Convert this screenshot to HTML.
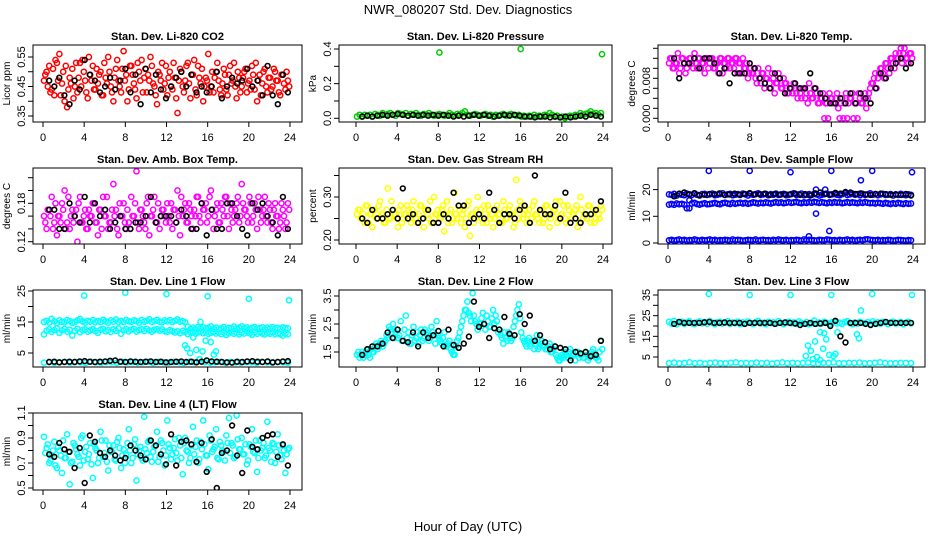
<!DOCTYPE html>
<html><head><meta charset="utf-8"><title>NWR_080207 Std. Dev. Diagnostics</title>
<style>
html,body{margin:0;padding:0;background:#fff;}
svg{display:block;font-family:"Liberation Sans",Arial,sans-serif;}
</style></head>
<body>
<svg id="chart" width="936" height="540" viewBox="0 0 936 540" xmlns="http://www.w3.org/2000/svg">
<rect x="0" y="0" width="936" height="540" fill="#fff"/>
<text x="468" y="14" text-anchor="middle" font-size="13">NWR_080207  Std. Dev. Diagnostics</text>
<text x="468" y="531" text-anchor="middle" font-size="13">Hour of Day (UTC)</text>
</svg>
<script>
// ---------- data ----------
const hourTicks = [0,4,8,12,16,20,24];

const co2Cloud = [0.47,0.50,0.52,0.44,0.42,0.53,0.56,0.46,0.40,0.38,0.48,0.51,0.45,0.43,0.53,0.54,0.47,0.41,0.49,0.52,0.44,0.46,0.50,0.42,0.48,0.55,0.45,0.40,0.51,0.47,0.43,0.57,0.49,0.44,0.52,0.46,0.41,0.50,0.54,0.48,0.43,0.47,0.52,0.45,0.39,0.49,0.53,0.46,0.42,0.50,0.44,0.48,0.36,0.51,0.45,0.47,0.53,0.41,0.49,0.44,0.52,0.46,0.40,0.48,0.56,0.45,0.43,0.50,0.47,0.42,0.51,0.44,0.49,0.46,0.53,0.41,0.48,0.45,0.50,0.43,0.47,0.52,0.44,0.40,0.49,0.46,0.51,0.43,0.48,0.45,0.50,0.47,0.42,0.49,0.44,0.47];
const co2Cloud2 = [0.49,0.45,0.43,0.51,0.54,0.47,0.42,0.50,0.52,0.44,0.46,0.41,0.53,0.48,0.45,0.50,0.43,0.55,0.47,0.44,0.51,0.49,0.42,0.53,0.46,0.50,0.43,0.48,0.54,0.45,0.51,0.47,0.40,0.52,0.49,0.44,0.53,0.47,0.43,0.51,0.49,0.55,0.46,0.42,0.50,0.47,0.44,0.52,0.48,0.45,0.53,0.41,0.47,0.50,0.43,0.52,0.46,0.49,0.54,0.42,0.48,0.51,0.45,0.47,0.43,0.50,0.48,0.53,0.44,0.46,0.49,0.42,0.52,0.47,0.45,0.50,0.43,0.48,0.51,0.46,0.44,0.49,0.53,0.47,0.42,0.50,0.45,0.48,0.44,0.51,0.47,0.43,0.49,0.46,0.50,0.45];
const co2Black = [0.47,0.45,0.48,0.42,0.39,0.47,0.44,0.54,0.49,0.47,0.43,0.45,0.48,0.44,0.47,0.51,0.43,0.49,0.39,0.51,0.43,0.49,0.44,0.41,0.45,0.48,0.50,0.45,0.49,0.43,0.45,0.43,0.45,0.50,0.41,0.45,0.48,0.46,0.47,0.51,0.45,0.47,0.42,0.52,0.42,0.39,0.49,0.43];

const presCloud = [0.01,0.02,0.01,0.02,0.015,0.02,0.01,0.025,0.02,0.015,0.03,0.02,0.025,0.03,0.02,0.015,0.03,0.025,0.02,0.03,0.015,0.025,0.02,0.03,0.02,0.015,0.025,0.02,0.03,0.02,0.015,0.02,0.025,0.02,0.015,0.02,0.03,0.02,0.015,0.025,0.02,0.03,0.04,0.02,0.015,0.02,0.025,0.02,0.015,0.02,0.025,0.015,0.02,0.01,0.02,0.015,0.02,0.025,0.015,0.02,0.025,0.02,0.015,0.02,0.01,0.015,0.01,0.015,0.01,0.02,0.01,0.015,0.01,0.02,0.015,0.03,0.02,0.01,0.015,0.005,0.01,0.0,0.01,0.015,0.01,0.02,0.015,0.03,0.02,0.025,0.03,0.04,0.025,0.03,0.02,0.03];
const presOutHours = [8.1,16.0,23.9];
const presOutVals = [0.38,0.40,0.37];
const presBlack = [0.01,0.015,0.01,0.015,0.02,0.015,0.02,0.025,0.02,0.015,0.02,0.015,0.02,0.015,0.02,0.015,0.02,0.015,0.01,0.015,0.01,0.015,0.02,0.015,0.02,0.015,0.01,0.015,0.02,0.015,0.02,0.015,0.01,0.01,0.005,0.01,0.01,0.005,0.01,0.005,0.01,0.005,0.01,0.015,0.01,0.02,0.015,0.01];

const tempCloud = [0.011,0.012,0.010,0.011,0.009,0.012,0.011,0.010,0.012,0.011,0.013,0.010,0.012,0.011,0.009,0.012,0.011,0.012,0.010,0.011,0.012,0.009,0.011,0.012,0.010,0.011,0.012,0.009,0.011,0.012,0.010,0.008,0.010,0.009,0.008,0.010,0.007,0.009,0.008,0.010,0.006,0.008,0.007,0.009,0.006,0.008,0.007,0.005,0.006,0.007,0.005,0.006,0.004,0.006,0.005,0.007,0.004,0.006,0.005,0.003,0.004,0.000,0.003,0.005,0.004,0.003,0.005,0.000,0.004,0.003,0.000,0.004,0.005,0.003,0.000,0.004,0.003,0.005,0.004,0.006,0.007,0.009,0.008,0.010,0.009,0.011,0.010,0.012,0.011,0.013,0.012,0.014,0.013,0.012,0.011,0.013];
const tempCloud2 = [0.012,0.010,0.011,0.013,0.010,0.012,0.009,0.011,0.012,0.010,0.011,0.012,0.010,0.011,0.012,0.010,0.012,0.010,0.011,0.009,0.012,0.011,0.010,0.012,0.011,0.010,0.012,0.011,0.009,0.010,0.011,0.009,0.009,0.010,0.007,0.008,0.009,0.006,0.008,0.007,0.009,0.005,0.007,0.008,0.006,0.007,0.005,0.006,0.005,0.006,0.004,0.005,0.006,0.004,0.003,0.005,0.004,0.006,0.003,0.004,0.005,0.003,0.000,0.004,0.003,0.004,0.002,0.003,0.000,0.005,0.003,0.004,0.000,0.003,0.005,0.003,0.004,0.002,0.005,0.007,0.008,0.006,0.009,0.010,0.008,0.011,0.009,0.012,0.010,0.012,0.013,0.011,0.014,0.012,0.013,0.012];
const tempBlack = [0.012,0.008,0.011,0.011,0.012,0.010,0.012,0.012,0.011,0.009,0.010,0.007,0.009,0.009,0.009,0.011,0.010,0.008,0.007,0.006,0.009,0.008,0.005,0.006,0.007,0.006,0.006,0.009,0.006,0.005,0.004,0.003,0.003,0.004,0.003,0.005,0.003,0.005,0.004,0.003,0.006,0.009,0.008,0.010,0.011,0.012,0.010,0.011];

const ambCloud = [0.16,0.14,0.17,0.19,0.15,0.13,0.16,0.18,0.20,0.15,0.14,0.17,0.16,0.12,0.19,0.15,0.17,0.14,0.16,0.18,0.15,0.13,0.17,0.19,0.16,0.14,0.15,0.21,0.17,0.13,0.16,0.18,0.14,0.15,0.19,0.16,0.23,0.14,0.17,0.15,0.18,0.13,0.16,0.19,0.15,0.14,0.17,0.16,0.18,0.15,0.14,0.17,0.20,0.13,0.16,0.18,0.15,0.17,0.14,0.16,0.19,0.15,0.17,0.18,0.16,0.20,0.14,0.17,0.15,0.18,0.16,0.19,0.14,0.17,0.16,0.18,0.15,0.21,0.17,0.16,0.19,0.15,0.18,0.14,0.17,0.16,0.19,0.15,0.17,0.14,0.18,0.16,0.15,0.17,0.14,0.18];
const ambCloud2 = [0.15,0.17,0.16,0.14,0.18,0.16,0.15,0.17,0.14,0.19,0.16,0.15,0.17,0.18,0.15,0.16,0.14,0.17,0.16,0.18,0.15,0.17,0.14,0.16,0.19,0.15,0.17,0.16,0.14,0.18,0.16,0.15,0.17,0.14,0.16,0.18,0.15,0.17,0.16,0.14,0.19,0.16,0.17,0.15,0.18,0.16,0.17,0.15,0.16,0.18,0.17,0.15,0.16,0.19,0.17,0.15,0.18,0.16,0.17,0.19,0.16,0.18,0.17,0.15,0.19,0.17,0.16,0.18,0.15,0.17,0.19,0.16,0.18,0.15,0.17,0.19,0.16,0.18,0.17,0.15,0.18,0.16,0.17,0.19,0.15,0.17,0.16,0.18,0.15,0.17,0.16,0.14,0.18,0.16,0.15,0.17];
const ambBlack = [0.17,0.17,0.14,0.14,0.18,0.16,0.15,0.19,0.15,0.18,0.16,0.17,0.14,0.15,0.16,0.14,0.14,0.15,0.15,0.16,0.19,0.15,0.16,0.16,0.16,0.15,0.17,0.16,0.14,0.14,0.18,0.13,0.17,0.14,0.14,0.18,0.18,0.16,0.14,0.13,0.18,0.17,0.18,0.16,0.15,0.13,0.19,0.14];

const rhCloud = [0.26,0.27,0.25,0.24,0.28,0.26,0.23,0.27,0.25,0.29,0.26,0.24,0.32,0.25,0.27,0.26,0.23,0.28,0.25,0.26,0.27,0.24,0.29,0.25,0.26,0.28,0.23,0.27,0.25,0.24,0.30,0.26,0.25,0.27,0.22,0.29,0.26,0.24,0.31,0.25,0.27,0.26,0.23,0.28,0.21,0.26,0.25,0.30,0.27,0.24,0.26,0.28,0.25,0.23,0.27,0.26,0.24,0.29,0.25,0.27,0.26,0.23,0.34,0.25,0.28,0.26,0.24,0.27,0.25,0.29,0.26,0.24,0.27,0.25,0.28,0.23,0.26,0.27,0.24,0.29,0.26,0.25,0.28,0.24,0.26,0.27,0.23,0.30,0.25,0.26,0.28,0.24,0.27,0.25,0.26,0.28];
const rhCloud2 = [0.27,0.25,0.26,0.28,0.24,0.26,0.27,0.25,0.28,0.26,0.24,0.27,0.25,0.29,0.26,0.25,0.27,0.24,0.26,0.28,0.25,0.27,0.26,0.24,0.28,0.25,0.27,0.26,0.29,0.24,0.26,0.27,0.25,0.28,0.26,0.24,0.27,0.25,0.26,0.28,0.24,0.27,0.25,0.29,0.26,0.24,0.27,0.26,0.25,0.28,0.24,0.27,0.26,0.25,0.28,0.26,0.24,0.27,0.25,0.28,0.26,0.24,0.27,0.29,0.25,0.27,0.26,0.24,0.28,0.26,0.25,0.27,0.24,0.28,0.26,0.25,0.27,0.29,0.25,0.26,0.28,0.24,0.27,0.25,0.26,0.28,0.24,0.27,0.26,0.25,0.28,0.26,0.24,0.27,0.25,0.27];
const rhBlack = [0.25,0.24,0.27,0.25,0.25,0.26,0.27,0.25,0.32,0.25,0.26,0.24,0.25,0.27,0.24,0.24,0.26,0.25,0.31,0.28,0.28,0.24,0.25,0.26,0.25,0.31,0.27,0.24,0.26,0.26,0.25,0.27,0.28,0.24,0.35,0.27,0.26,0.26,0.28,0.25,0.31,0.24,0.25,0.24,0.26,0.26,0.27,0.29];

const sampleHigh = [18.2,18.0,18.4,17.8,18.3,18.1,17.9,18.5,18.2,18.0,18.6,18.1,17.8,18.3,18.4,18.0,18.2,18.5,17.9,18.1,18.3,18.6,18.0,18.2,18.4,17.9,18.1,18.3,18.0,18.5,18.2,17.8,18.4,18.1,18.3,18.6,18.0,18.2,18.4,17.9,18.3,18.1,18.5,18.0,18.2,18.4,17.9,18.1,18.3,18.6,18.0,18.2,18.5,17.9,18.1,18.3,18.0,18.4,18.2,17.8,18.1,18.3,18.5,18.0,18.2,18.4,18.1,17.9,18.3,18.6,18.0,18.2,18.5,18.1,18.3,17.9,18.4,18.0,18.2,18.6,18.1,18.3,17.9,18.2,18.4,18.0,18.1,18.3,17.8,18.2,18.0,18.4,18.1,17.9,18.2,18.0];
const sampleMid = [14.4,14.6,14.3,14.8,14.5,14.7,14.4,13.0,16.0,14.8,15.0,14.6,14.4,14.7,14.9,14.5,14.6,14.8,15.0,14.7,14.5,14.9,15.1,14.8,14.6,15.0,14.7,14.9,15.1,14.8,15.0,14.7,14.9,15.2,15.0,14.8,15.1,14.9,15.2,15.0,14.8,15.1,15.3,15.0,15.2,14.9,15.1,15.3,15.0,15.2,15.4,15.1,14.9,15.2,15.0,15.3,15.1,15.4,15.2,15.0,15.3,15.1,14.9,15.2,15.0,15.3,15.1,15.2,14.9,15.1,15.3,15.0,15.2,15.1,14.9,15.2,15.0,15.3,15.1,14.9,15.0,14.8,15.1,14.9,14.7,15.0,14.8,14.6,14.9,14.7,15.0,14.8,14.6,14.9,14.7,14.8];
const sampleLow = [1.0,1.2,0.9,1.1,1.3,1.0,1.2,0.9,1.1,1.0,1.3,1.1,0.9,1.2,1.0,1.1,1.3,1.0,1.2,0.9,1.1,1.0,1.2,1.1,0.9,1.3,1.0,1.2,1.1,0.9,1.0,1.2,1.1,1.0,1.3,0.9,1.1,1.2,1.0,1.1,0.9,1.2,1.0,1.3,1.1,1.0,1.2,0.9,1.1,1.0,1.2,1.1,0.9,1.3,1.0,1.2,1.1,1.0,0.9,1.2,1.1,1.0,1.3,1.2,1.0,1.1,0.9,1.2,1.0,1.1,1.3,1.0,1.2,0.9,1.1,1.2,1.0,1.3,1.4,1.2,1.1,1.0,1.2,0.9,1.1,1.0,1.2,1.1,0.9,1.0,1.2,1.1,1.0,0.9,1.1,1.0];
const sampleOutHours = [4.0,8.0,12.0,16.0,20.0,23.9,18.9,14.5,15.8,13.8,2.1,14.5,15.4];
const sampleOutVals = [27.0,27.0,26.5,27.0,27.0,26.5,23.5,11.0,4.5,2.5,13.0,20.0,20.0];
const sampleBlack = [17.5,18.5,18.9,18.2,18.6,17.9,18.1,18.4,18.3,18.6,18.0,18.2,18.5,18.1,18.4,18.7,18.2,18.3,18.5,18.0,18.4,18.1,18.3,18.2,18.5,18.0,18.3,17.8,18.6,18.9,18.4,18.2,18.8,18.5,19.1,18.9,18.3,18.6,18.2,18.0,18.4,18.5,18.3,18.1,18.2,18.0,18.4,17.8];

const line1Upper = [15.0,15.4,14.8,16.0,15.2,14.6,15.5,15.1,14.9,15.6,15.3,14.7,15.0,15.5,16.0,15.2,14.8,15.4,15.1,15.6,14.9,15.3,15.0,15.7,15.2,14.8,15.5,15.1,15.8,15.0,15.4,14.9,15.6,15.2,15.0,15.5,15.3,14.8,15.6,15.1,15.4,15.9,15.0,15.3,15.7,15.1,14.9,15.5,15.2,15.6,15.0,15.4,15.8,15.1,15.3,14.9,13.5,12.8,13.2,12.6,13.4,12.9,13.3,12.7,13.1,13.6,12.8,13.2,12.6,13.0,13.4,12.7,13.1,12.9,13.5,12.8,13.2,13.6,12.9,13.3,12.7,13.1,13.4,12.8,13.0,13.3,12.6,13.2,12.9,13.4,12.8,13.1,12.7,13.3,12.9,13.0];
const line1Lower = [11.0,12.2,12.6,11.8,12.4,12.9,11.5,12.3,12.7,11.9,12.5,10.6,12.2,12.8,11.7,12.4,12.6,11.9,12.3,12.7,12.1,11.5,12.5,12.8,12.0,12.4,11.8,12.6,12.2,12.9,11.2,12.3,12.7,12.0,12.5,12.8,11.9,12.4,12.6,12.1,12.8,12.3,11.9,12.5,12.7,12.2,12.6,12.0,11.8,12.4,12.1,11.6,12.0,11.4,12.2,11.8,11.1,11.7,11.9,11.3,11.6,12.0,11.4,11.8,11.2,11.5,11.9,11.3,11.7,11.1,11.6,10.8,11.4,11.9,11.2,11.5,11.0,11.7,11.3,12.0,11.4,10.9,11.6,11.2,11.8,11.3,11.0,11.5,11.2,11.7,11.0,11.4,11.1,10.6,11.3,11.0];
const line1Bottom = [1.9,2.1,1.8,2.0,2.2,1.9,2.1,2.0,1.8,2.2,2.0,1.9,2.1,2.0,1.8,2.2,2.0,2.1,1.9,2.0,2.2,1.8,2.1,2.0,1.9,2.1,2.0,1.8,2.2,2.0,3.0,2.1,1.9,2.0,2.2,1.8,2.1,2.0,1.9,2.1,2.0,1.8,2.2,2.0,1.9,2.1,2.0,1.9];
const line1OutHours = [4.0,8.0,12.0,16.0,20.0,23.9,13.8,14.0,14.3,14.6,14.9,15.3,15.5,15.8,16.3,16.6,15.2,16.8];
const line1OutVals = [23.5,24.5,24.0,23.3,22.5,22.0,7.5,6.5,5.0,10.0,6.0,15.0,5.5,9.0,8.5,4.5,3.0,5.5];
const line1Black = [2.1,2.2,2.0,2.1,2.2,2.1,2.3,2.4,2.2,2.1,2.2,2.3,2.5,2.6,2.2,2.1,2.3,2.2,2.1,2.2,2.3,2.1,2.2,2.0,2.1,2.2,2.3,2.1,2.2,2.0,2.2,2.6,2.3,2.2,2.1,2.0,1.9,2.2,2.1,2.3,2.4,2.2,2.1,2.3,2.0,2.1,2.3,2.4];

const line2Cloud = [1.4,1.3,1.5,1.4,1.6,1.3,1.5,1.7,1.6,1.8,1.7,1.9,2.0,2.3,2.5,2.2,2.0,2.6,1.9,2.8,2.2,1.8,2.4,2.0,1.8,2.3,2.0,2.2,1.9,2.4,2.1,2.6,2.0,1.8,2.2,1.7,1.9,1.5,1.4,1.9,2.2,2.6,3.0,3.3,2.8,3.6,2.6,2.3,2.5,2.9,2.3,2.6,2.4,3.0,2.8,2.2,2.1,1.8,2.0,2.2,1.9,2.4,2.8,3.2,2.2,1.9,1.7,2.0,1.8,1.6,2.1,1.7,1.9,1.7,1.6,1.8,1.5,1.7,1.3,1.2,1.4,1.5,1.3,1.6,1.4,1.2,1.5,1.4,1.3,1.5,1.2,1.4,1.6,1.3,1.2,1.9];
const line2Cloud2 = [1.5,1.4,1.3,1.5,1.4,1.6,1.5,1.8,1.7,1.9,1.8,2.1,2.4,2.2,2.0,2.3,2.1,1.9,2.3,2.0,1.8,2.1,1.9,2.2,2.1,1.9,2.3,2.1,2.0,2.2,1.8,2.1,1.9,2.0,1.7,1.8,1.6,1.4,1.7,2.0,2.4,2.8,3.0,2.9,2.6,2.8,2.5,2.4,2.7,2.5,2.8,2.4,2.7,2.5,2.6,2.3,2.0,2.2,1.9,2.1,2.0,2.6,3.0,2.7,2.0,1.8,1.9,1.7,1.9,1.8,1.6,1.8,1.7,1.6,1.7,1.5,1.6,1.4,1.2,1.3,1.3,1.4,1.5,1.3,1.4,1.5,1.3,1.4,1.3,1.4,1.3,1.5,1.4,1.3,1.5,1.6];
const line2Black = [1.4,1.6,1.7,1.7,1.8,2.2,2.0,2.3,1.9,1.85,2.2,1.7,2.2,2.0,2.1,2.25,1.7,2.3,1.75,1.65,1.8,2.05,3.3,2.4,2.5,2.0,2.35,2.3,2.75,2.15,2.1,2.85,2.5,2.8,1.9,2.1,1.85,1.6,1.7,1.65,1.6,1.2,1.5,1.45,1.5,1.35,1.4,1.9];

const line3Band = [22.0,21.2,22.5,20.8,21.6,22.1,21.0,21.8,22.3,21.4,20.9,21.7,22.2,21.3,21.9,21.1,22.4,21.5,20.8,21.8,22.0,21.2,21.6,22.3,21.0,21.7,21.4,22.1,20.9,21.8,21.3,22.2,21.5,21.0,21.9,22.4,21.2,21.6,20.8,22.0,21.4,21.8,21.1,22.3,21.5,20.9,21.7,22.1,21.3,21.8,21.0,22.2,21.6,21.2,21.9,20.8,21.4,22.6,21.1,21.7,21.3,22.0,21.5,20.9,21.8,22.1,21.2,21.6,21.0,21.9,22.3,21.4,20.8,21.7,21.1,22.0,21.5,21.3,21.9,21.0,22.2,21.4,21.8,21.1,22.0,21.6,20.9,21.7,22.1,21.2,21.5,21.9,20.8,21.6,22.0,21.3];
const line3Bottom = [2.0,2.3,1.9,2.1,2.4,2.0,2.2,1.8,2.1,2.3,2.0,1.9,2.2,2.4,2.0,2.1,1.9,2.3,2.0,2.2,1.8,2.1,2.4,2.0,2.2,1.9,2.1,2.3,2.0,1.8,2.2,2.1,2.4,2.0,1.9,2.2,2.1,2.3,1.9,2.0,2.2,2.4,2.1,1.9,2.0,2.2,2.1,2.0];
const line3OutHours = [4.0,8.0,12.0,16.0,20.0,23.9,13.5,13.7,14.0,14.2,14.4,14.6,14.9,15.2,15.5,15.8,16.2,16.4,18.5,18.7,18.9,14.9,15.3,16.6];
const line3OutVals = [35.5,35.0,35.0,35.0,35.5,35.0,5.5,10.5,8.0,4.0,12.5,5.0,3.5,9.0,13.5,6.0,5.5,6.5,16.0,14.0,27.5,17.0,16.5,17.0];
const line3Black = [21.0,22.0,21.5,21.5,21.5,21.5,21.8,22.0,21.5,21.5,21.7,21.5,21.5,21.5,21.0,21.5,21.5,21.5,21.5,21.5,21.0,21.5,21.7,21.5,21.2,20.5,21.0,21.5,21.0,21.2,21.5,20.0,22.5,15.0,12.0,21.5,21.5,21.5,21.0,20.5,21.0,21.5,22.0,21.5,21.5,21.5,21.5,21.5];

const line4Cloud = [0.91,0.82,0.70,0.76,0.87,0.66,0.80,0.62,0.74,0.93,0.53,0.71,0.84,0.77,0.68,0.92,0.79,0.73,0.86,0.58,0.82,0.70,0.95,0.75,0.88,0.64,0.79,0.84,0.72,0.90,0.66,0.81,0.76,0.97,0.70,0.85,0.56,0.80,0.74,1.07,0.78,0.88,0.71,0.83,0.95,0.75,0.86,0.68,1.04,0.82,0.77,0.89,0.72,0.84,0.61,0.90,0.79,0.74,0.99,0.83,0.70,0.87,1.04,0.76,0.65,0.88,0.81,0.97,0.73,0.84,0.79,0.92,1.06,0.86,0.74,1.08,0.81,0.90,0.77,0.69,0.85,0.97,0.78,0.63,0.88,0.82,0.74,1.03,0.80,0.86,0.70,0.93,0.76,0.84,0.62,0.81];
const line4Cloud2 = [0.78,0.85,0.72,0.80,0.68,0.83,0.76,0.88,0.74,0.79,0.70,0.86,0.81,0.75,0.90,0.72,0.83,0.77,0.69,0.85,0.80,0.74,0.88,0.78,0.71,0.84,0.79,0.73,0.87,0.82,0.76,0.70,0.86,0.80,0.74,0.89,0.77,0.83,0.72,0.81,0.87,0.75,0.79,0.84,0.71,0.88,0.80,0.76,0.85,0.73,0.82,0.78,0.90,0.74,0.86,0.80,0.70,0.84,0.77,0.88,0.73,0.81,0.85,0.76,0.92,0.79,0.83,0.74,0.87,0.80,0.72,0.86,0.78,0.84,0.75,0.89,0.81,0.77,0.85,0.72,0.83,0.79,0.88,0.74,0.80,0.86,0.76,0.82,0.71,0.85,0.79,0.84,0.73,0.80,0.77,0.82];
const line4Black = [0.77,0.75,0.86,0.81,0.79,0.66,0.82,0.54,0.92,0.87,0.78,0.75,0.80,0.76,0.72,0.74,0.84,0.80,0.76,0.73,0.88,0.84,0.77,0.69,0.93,0.68,0.87,0.88,0.85,0.71,0.86,0.63,0.89,0.50,0.78,0.80,1.00,0.76,0.62,0.96,0.83,0.81,0.90,0.92,0.93,0.75,0.85,0.68];

// ---------- layout (positions, not data) ----------
const cols = [
  {bx0:33, bx1:302, h0:43, h24:290},
  {bx0:339, bx1:612, h0:356, h24:603},
  {bx0:658, bx1:925, h0:668, h24:913}
];
const rows = [{by0:45,by1:122},{by0:168,by1:244},{by0:290,by1:367},{by0:413,by1:490}];
const RED='#ff0000', GRN='#00cc00', MAG='#ff00ff', YEL='#ffff00', BLU='#0000ff', CYA='#00ffff', BLK='#000000';

const panels = [
 {key:'li820-co2', title:'Stan. Dev. Li-820 CO2', ylab:'Licor ppm', c:0, r:0, cal:[0.55,57,0.35,116],
  ticks:[0.35,0.40,0.45,0.50,0.55], labels:[[0.35,'0.35'],[0.45,'0.45'],[0.55,'0.55']],
  series:[{v:co2Cloud,col:RED},{v:co2Cloud2,col:RED,off:0.22},{v:co2Black,col:BLK,blk:true}]},
 {key:'li820-pressure', title:'Stan. Dev. Li-820 Pressure', ylab:'kPa', c:1, r:0, cal:[0.4,49,0.0,118.3],
  ticks:[0,0.1,0.2,0.3,0.4], labels:[[0,'0.0'],[0.2,'0.2'],[0.4,'0.4']],
  series:[{v:presCloud,col:GRN},{h:presOutHours,v:presOutVals,col:GRN},{v:presBlack,col:BLK,blk:true}]},
 {key:'li820-temp', title:'Stan. Dev. Li-820 Temp.', ylab:'degrees C', c:2, r:0, cal:[0.014,48.3,0.0,118.3],
  ticks:[0,0.002,0.004,0.006,0.008,0.010,0.012,0.014], labels:[[0,'0.000'],[0.0075,'0.008']],
  series:[{v:tempCloud,col:MAG},{v:tempCloud2,col:MAG,off:0.22},{v:tempBlack,col:BLK,blk:true}]},
 {key:'amb-box-temp', title:'Stan. Dev. Amb. Box Temp.', ylab:'degrees C', c:0, r:1, cal:[0.22,177.7,0.12,241.7],
  ticks:[0.12,0.14,0.16,0.18,0.20,0.22], labels:[[0.12,'0.12'],[0.18,'0.18']],
  series:[{v:ambCloud,col:MAG},{v:ambCloud2,col:MAG,off:0.22},{v:ambBlack,col:BLK,blk:true}]},
 {key:'gas-stream-rh', title:'Stan. Dev. Gas Stream RH', ylab:'percent', c:1, r:1, cal:[0.30,197,0.20,240],
  ticks:[0.20,0.25,0.30,0.35], labels:[[0.20,'0.20'],[0.30,'0.30']],
  series:[{v:rhCloud,col:YEL},{v:rhCloud2,col:YEL,off:0.22},{v:rhBlack,col:BLK,blk:true}]},
 {key:'sample-flow', title:'Stan. Dev. Sample Flow', ylab:'ml/min', c:2, r:1, cal:[20,189.6,0,243],
  ticks:[0,10,20], labels:[[0,'0'],[10,'10'],[20,'20']],
  series:[{v:sampleHigh,col:BLU},{v:sampleMid,col:BLU},{v:sampleLow,col:BLU},{h:sampleOutHours,v:sampleOutVals,col:BLU},{v:sampleBlack,col:BLK,blk:true}]},
 {key:'line1-flow', title:'Stan. Dev. Line 1 Flow', ylab:'ml/min', c:0, r:2, cal:[25,291,5,353],
  ticks:[5,10,15,20,25], labels:[[5,'5'],[15,'15'],[25,'25']],
  series:[{v:line1Upper,col:CYA},{v:line1Lower,col:CYA},{v:line1Bottom,col:CYA},{h:line1OutHours,v:line1OutVals,col:CYA},{v:line1Black,col:BLK,blk:true}]},
 {key:'line2-flow', title:'Stan. Dev. Line 2 Flow', ylab:'ml/min', c:1, r:2, cal:[3.5,296,1.5,352],
  ticks:[1.5,2.0,2.5,3.0,3.5], labels:[[1.5,'1.5'],[2.5,'2.5'],[3.5,'3.5']],
  series:[{v:line2Cloud,col:CYA},{v:line2Cloud2,col:CYA,off:0.22},{v:line2Black,col:BLK,blk:true}]},
 {key:'line3-flow', title:'Stan. Dev. Line 3 Flow', ylab:'ml/min', c:2, r:2, cal:[35,295,5,357],
  ticks:[5,10,15,20,25,30,35], labels:[[5,'5'],[15,'15'],[25,'25'],[35,'35']],
  series:[{v:line3Band,col:CYA},{v:line3Bottom,col:CYA},{h:line3OutHours,v:line3OutVals,col:CYA},{v:line3Black,col:BLK,blk:true}]},
 {key:'line4-flow', title:'Stan. Dev. Line 4 (LT) Flow', ylab:'ml/min', c:0, r:3, cal:[1.1,413,0.5,488],
  ticks:[0.5,0.6,0.7,0.8,0.9,1.0,1.1], labels:[[0.5,'0.5'],[0.7,'0.7'],[0.9,'0.9'],[1.1,'1.1']],
  series:[{v:line4Cloud,col:CYA},{v:line4Cloud2,col:CYA,off:0.22},{v:line4Black,col:BLK,blk:true}]}
];

// ---------- drawing ----------
const NS='http://www.w3.org/2000/svg';
const svg=document.getElementById('chart');
function mk(tag, parent){const e=document.createElementNS(NS,tag);parent.appendChild(e);return e;}
const defs=mk('defs',svg);

panels.forEach((p,pi)=>{
  const C=cols[p.c], R=rows[p.r];
  const xs=h=>C.h0+h*(C.h24-C.h0)/24;
  const ys=v=>p.cal[1]+(v-p.cal[0])*(p.cal[3]-p.cal[1])/(p.cal[2]-p.cal[0]);
  const g=mk('g',svg);
  
  

  const cp=mk('clipPath',defs); cp.setAttribute('id','clip'+pi);
  const cr=mk('rect',cp); cr.setAttribute('x',C.bx0); cr.setAttribute('y',R.by0); cr.setAttribute('width',C.bx1-C.bx0); cr.setAttribute('height',R.by1-R.by0);

  const t=mk('text',g);
  
  
  t.setAttribute('x',(C.bx0+C.bx1)/2); t.setAttribute('y',R.by0-5);
  t.setAttribute('text-anchor','middle'); t.setAttribute('font-size','11'); t.setAttribute('font-weight','bold');
  t.textContent=p.title;

  const yl=mk('text',g);
  
  
  const ylx=C.bx0-23, yly=(R.by0+R.by1)/2;
  yl.setAttribute('x',ylx); yl.setAttribute('y',yly); yl.setAttribute('transform','rotate(-90 '+ylx+' '+yly+')');
  yl.setAttribute('text-anchor','middle'); yl.setAttribute('font-size','10');
  yl.textContent=p.ylab;

  const pts=mk('g',g);
  
  
  pts.setAttribute('clip-path','url(#clip'+pi+')');
  p.series.forEach(s=>{
    const n=s.v.length;
    s.v.forEach((v,i)=>{
      let h;
      if(s.h) h=s.h[i];
      else if(s.blk) h=0.6+i*23.2/(n-1);
      else h=(s.off||0.1)+i*23.7/(n-1);
      const c=mk('circle',pts);
      
      
      c.setAttribute('cx',xs(h).toFixed(1)); c.setAttribute('cy',ys(v).toFixed(1));
      c.setAttribute('r',s.blk?2.4:2.6); c.setAttribute('fill','none');
      c.setAttribute('stroke',s.col); c.setAttribute('stroke-width',s.blk?1.6:1.5);
    });
  });

  const box=mk('rect',g);
  
  
  box.setAttribute('x',C.bx0); box.setAttribute('y',R.by0); box.setAttribute('width',C.bx1-C.bx0); box.setAttribute('height',R.by1-R.by0);
  box.setAttribute('fill','none'); box.setAttribute('stroke','#000'); box.setAttribute('stroke-width','1');

  const xa=mk('g',g);
  
  
  hourTicks.forEach(h=>{
    const l=mk('line',xa); l.setAttribute('x1',xs(h)); l.setAttribute('x2',xs(h)); l.setAttribute('y1',R.by1); l.setAttribute('y2',R.by1+5); l.setAttribute('stroke','#000');
    const tx=mk('text',xa);
    
    
    tx.setAttribute('x',xs(h)); tx.setAttribute('y',R.by1+19); tx.setAttribute('text-anchor','middle'); tx.setAttribute('font-size','11');
    tx.textContent=h;
  });
  const ya=mk('g',g);
  
  
  p.ticks.forEach(v=>{
    const l=mk('line',ya); l.setAttribute('x1',C.bx0-5); l.setAttribute('x2',C.bx0); l.setAttribute('y1',ys(v)); l.setAttribute('y2',ys(v)); l.setAttribute('stroke','#000');
  });
  p.labels.forEach(([v,s])=>{
    const tx=mk('text',ya);
    
    
    const x=C.bx0-8, y=ys(v);
    tx.setAttribute('x',x); tx.setAttribute('y',y); tx.setAttribute('transform','rotate(-90 '+x+' '+y+')');
    tx.setAttribute('text-anchor','middle'); tx.setAttribute('font-size','11');
    tx.textContent=s;
  });
});
</script>
</body></html>
